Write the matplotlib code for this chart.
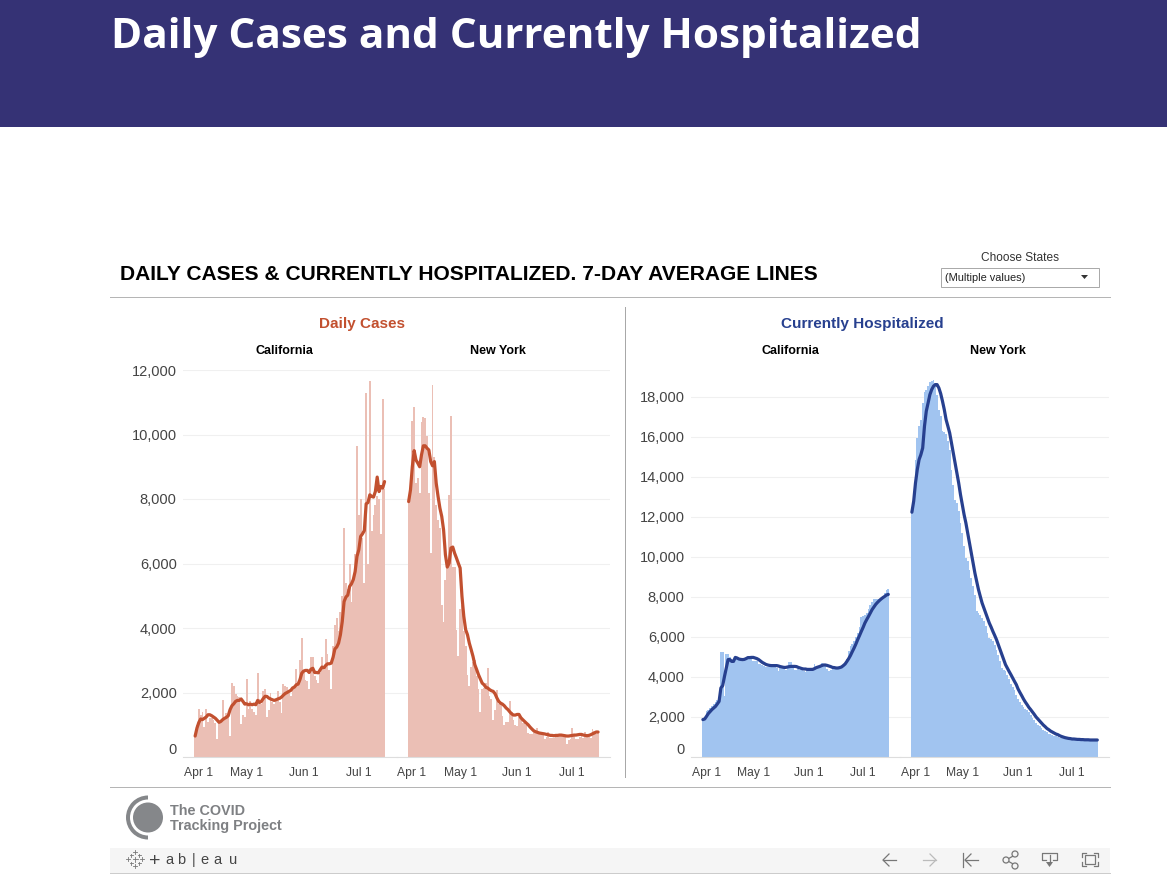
import matplotlib
matplotlib.use('Agg')
import matplotlib.pyplot as plt
import numpy as np
from matplotlib.patches import Rectangle, Circle, Wedge, Polygon
from matplotlib.ticker import FuncFormatter

W, H = 1167, 882

# Daily cases, from Apr 2 on
ca_cases = [650, 1000, 1500, 1300, 1400, 920, 1500, 1100, 1200, 1200,
            1150, 1050, 570, 1050, 1100, 1770, 1150, 1350, 1300, 650,
            2300, 2200, 1950, 1900, 1850, 1030, 1300, 1250, 2420, 1500,
            1750, 1500, 1400, 1300, 2600, 1800, 1650, 2050, 2100, 1250,
            1450, 2000, 1700, 1650, 1800, 2050, 1700, 1350, 2270, 2200,
            2180, 2000, 1900, 2150, 2200, 2730, 2300, 3000, 3690, 2700,
            2400, 2350, 2100, 3100, 3100, 2500, 2400, 2300, 2600, 3100,
            2700, 3650, 3200, 2700, 2100, 3450, 4100, 4300, 3900, 4500,
            5000, 7100, 5400, 5200, 6000, 4800, 5500, 6300, 9650, 7500,
            8000, 6800, 5400, 11300, 6000, 11650, 7000, 7500, 7800, 8100,
            8000, 6900, 11100, 8300]
ca_cases_avg = [650, 900, 1070, 1180, 1160, 1200, 1240, 1310, 1310, 1280,
                1240, 1200, 1140, 1075, 1105, 1160, 1200, 1230, 1280, 1470,
                1590, 1650, 1725, 1755, 1755, 1800, 1725, 1640, 1650, 1620,
                1640, 1620, 1640, 1620, 1755, 1690, 1725, 1810, 1880, 1880,
                1830, 1800, 1775, 1755, 1775, 1800, 1820, 1860, 1920, 1970,
                2000, 2035, 2065, 2140, 2170, 2240, 2260, 2400, 2600, 2665,
                2685, 2685, 2620, 2725, 2750, 2620, 2620, 2610, 2705, 2790,
                2760, 2840, 2890, 2890, 2910, 3090, 3350, 3410, 3530, 3790,
                4200, 4820, 4960, 5020, 5290, 5370, 5500, 5750, 6220, 6425,
                6840, 6920, 7020, 7850, 7890, 8130, 8080, 8060, 8230, 8680,
                8230, 8390, 8340, 8540]
ny_cases = [7900, 8200, 10420, 10850, 8500, 8650, 8200, 10400, 10550, 10500,
            9960, 8200, 6340, 11550, 9300, 7800, 7350, 7100, 4720, 4200,
            5500, 6000, 8130, 10560, 5900, 5900, 3950, 3120, 4600, 4700,
            3900, 3450, 2550, 2200, 2800, 2950, 3000, 2500, 2100, 1400,
            2100, 2150, 2300, 2760, 1900, 1800, 1150, 1450, 2090, 1650,
            1700, 1260, 1000, 1100, 1100, 1750, 1400, 1150, 1000, 950,
            1250, 1200, 1050, 1050, 1000, 750, 700, 700, 800, 850,
            900, 750, 700, 680, 570, 620, 790, 600, 600, 580,
            640, 650, 720, 680, 620, 640, 400, 520, 560, 900,
            650, 560, 560, 620, 650, 580, 780, 700, 620, 600,
            860, 800, 700, 750]
ny_cases_avg = [7920, 8280, 9000, 9500, 9210, 9110, 9000, 9370, 9650, 9650,
                9575, 9520, 9160, 9030, 9160, 8490, 8080, 7720, 7460, 7045,
                6270, 5890, 6010, 6480, 6510, 6320, 6170, 6010, 5860, 4980,
                4360, 3950, 3790, 3530, 3330, 3120, 2860, 2710, 2550, 2420,
                2290, 2240, 2160, 2140, 2090, 2055, 2035, 1960, 1830, 1725,
                1670, 1640, 1590, 1520, 1470, 1400, 1340, 1300, 1300, 1320,
                1320, 1220, 1160, 1105, 1050, 1000, 930, 870, 815, 785,
                765, 745, 735, 725, 715, 700, 690, 670, 670, 660,
                670, 670, 680, 680, 670, 660, 650, 650, 660, 670,
                680, 680, 690, 700, 700, 680, 670, 660, 670, 690,
                720, 745, 775, 775]

# Currently hospitalized
ca_hosp = [1850, 1950, 2280, 2370, 2450, 2530, 2670, 2730, 2830, 2950,
           5270, 5270, 3030, 5150, 5150, 5000, 4700, 4700, 5000, 4900,
           4850, 4850, 4800, 4850, 4950, 4950, 4980, 4980, 4800, 4780,
           4780, 4650, 4650, 4580, 4560, 4500, 4520, 4560, 4560, 4560,
           4500, 4450, 4300, 4450, 4500, 4400, 4350, 4500, 4770, 4770,
           4500, 4350, 4350, 4400, 4350, 4380, 4300, 4250, 4400, 4350,
           4330, 4350, 4650, 4500, 4450, 4500, 4700, 4600, 4600, 4400,
           4300, 4350, 4450, 4450, 4450, 4380, 4420, 4450, 4500, 4700,
           4900, 5300, 5570, 5650, 5800, 6000, 6200, 6500, 7000, 7050,
           7100, 7200, 7400, 7600, 7750, 7900, 7900, 7900, 7900, 7950,
           8000, 8200, 8350, 8400]
ca_hosp_avg = [1870, 1900, 2030, 2170, 2270, 2370, 2450, 2530, 2650, 2780,
               3450, 3570, 4030, 4450, 4870, 4870, 4780, 4780, 4980, 4950,
               4900, 4880, 4870, 4880, 4920, 4970, 4970, 4980, 4980, 4950,
               4920, 4870, 4800, 4730, 4680, 4630, 4600, 4580, 4570, 4570,
               4570, 4570, 4550, 4520, 4500, 4480, 4480, 4500, 4520, 4530,
               4530, 4530, 4520, 4480, 4450, 4420, 4400, 4400, 4380, 4380,
               4380, 4380, 4420, 4470, 4500, 4530, 4570, 4600, 4600, 4580,
               4550, 4520, 4480, 4470, 4450, 4450, 4470, 4500, 4570, 4650,
               4780, 4920, 5080, 5270, 5450, 5650, 5870, 6070, 6280, 6480,
               6700, 6870, 7030, 7200, 7370, 7500, 7630, 7730, 7820, 7900,
               7970, 8030, 8100, 8130]
ny_hosp = [12370, 13030, 14870, 15950, 16530, 16870, 17700, 18240, 18370, 18540,
           18740, 18820, 18870, 18700, 18120, 17370, 17040, 16290, 16240, 16150,
           15790, 15370, 14370, 13620, 12870, 12700, 12290, 11700, 11200, 10540,
           9950, 9790, 9370, 8950, 8530, 8120, 7280, 7200, 7120, 6950,
           6780, 6530, 6200, 5950, 5900, 5780, 5620, 5370, 5120, 4780,
           4450, 4370, 4280, 4120, 3900, 3670, 3500, 3330, 3120, 2920,
           2750, 2580, 2500, 2420, 2330, 2230, 2120, 1970, 1830, 1700,
           1620, 1530, 1450, 1370, 1280, 1230, 1170, 1130, 1100, 1070,
           1030, 1000, 970, 950, 930, 920, 900, 900, 890, 880,
           880, 870, 870, 860, 860, 860, 850, 850, 850, 850,
           850, 840, 840, 840]
ny_hosp_avg = [12240, 12790, 13700, 14370, 14870, 15120, 15450, 16540, 17290, 17700,
               18120, 18370, 18540, 18620, 18620, 18450, 18170, 17790, 17370, 16870,
               16540, 16200, 15700, 15200, 14700, 14200, 13700, 13120, 12620, 12120,
               11700, 11200, 10700, 10200, 9700, 9200, 8780, 8370, 8030, 7700,
               7450, 7200, 6950, 6700, 6500, 6280, 6080, 5870, 5620, 5370,
               5120, 4870, 4620, 4450, 4280, 4120, 3950, 3780, 3620, 3400,
               3230, 3070, 2900, 2750, 2620, 2480, 2370, 2250, 2130, 2000,
               1900, 1800, 1700, 1600, 1520, 1430, 1370, 1300, 1250, 1200,
               1150, 1120, 1070, 1030, 1000, 970, 950, 930, 920, 900,
               900, 890, 880, 880, 870, 870, 860, 860, 860, 850,
               850, 850, 850, 850]

month_labels = ['Apr 1', 'May 1', 'Jun 1', 'Jul 1']
# days since Apr 1, first label is pushed right like tableau does at the edge
month_days = [3.8, 30, 61, 91]
cases_ticks = [0, 2000, 4000, 6000, 8000, 10000, 12000]
hosp_ticks = [0, 2000, 4000, 6000, 8000, 10000, 12000, 14000, 16000, 18000]

ORANGE = '#C2502F'
ORANGE_BAR = '#EBBFB5'
BLUE = '#27408F'
BLUE_BAR = '#A1C4F0'
GRID = '#F0F0F0'

plt.rcParams['font.family'] = ['Liberation Sans', 'DejaVu Sans']

fig = plt.figure(figsize=(W / 100, H / 100), dpi=100, facecolor='white')


def px_axes(left, right, top, bottom):
    return fig.add_axes([left / W, 1 - bottom / H, (right - left) / W, (bottom - top) / H])


# background layer in pixel coords for the page furniture
bg = fig.add_axes([0, 0, 1, 1])
bg.set_xlim(0, W)
bg.set_ylim(H, 0)
bg.axis('off')


def draw_facet(ax, bars, avg, ymax, ticks, bar_color, line_color, show_y):
    days = np.arange(len(bars)) + 2
    ax.bar(days, bars, width=1.0, color=bar_color, linewidth=0, zorder=2)
    ax.plot(days, avg, color=line_color, lw=2.3, solid_capstyle='round', zorder=3)
    ax.set_xlim(-4.6, 111.5)
    ax.set_ylim(0, ymax)
    ax.set_yticks(ticks)
    ax.yaxis.set_major_formatter(FuncFormatter(lambda v, p: f'{int(v):,}'))
    ax.set_xticks(month_days)
    ax.set_xticklabels(month_labels, fontsize=8.7, color='#444444')
    ax.tick_params(axis='x', length=0, pad=7.5)
    ax.tick_params(axis='y', length=0, pad=4.5, labelsize=10.5, labelcolor='#444444',
                   labelleft=show_y)
    ax.grid(axis='y', color=GRID, lw=0.8, zorder=0)
    ax.set_axisbelow(True)
    ax.patch.set_alpha(0)
    for side in ['top', 'left', 'right']:
        ax.spines[side].set_visible(False)
    ax.spines['bottom'].set_color('#DDDDDD')
    if show_y:
        # tableau lifts the zero label off the baseline
        ax.get_yticklabels()[0].set_va('bottom')


ymax_cases = 12000
# same 387 px tall panel, 2,000 is 40 px here
ymax_hosp = 19350

draw_facet(px_axes(183, 396.5, 370, 757), ca_cases, ca_cases_avg, ymax_cases, cases_ticks,
           ORANGE_BAR, ORANGE, True)
draw_facet(px_axes(396.5, 610, 370, 757), ny_cases, ny_cases_avg, ymax_cases, cases_ticks,
           ORANGE_BAR, ORANGE, False)
draw_facet(px_axes(691, 900, 370, 757), ca_hosp, ca_hosp_avg, ymax_hosp, hosp_ticks,
           BLUE_BAR, BLUE, True)
draw_facet(px_axes(900, 1109, 370, 757), ny_hosp, ny_hosp_avg, ymax_hosp, hosp_ticks,
           BLUE_BAR, BLUE, False)

# header band
bg.add_patch(Rectangle((0, 0), W, 127, color='#353275', lw=0))
bg.text(111, 37, 'Daily Cases and Currently Hospitalized', color='white', fontsize=30.4,
        fontweight='bold', family='Open Sans', va='center', ha='left')

# dashboard title and filter
bg.text(120, 274, 'DAILY CASES & CURRENTLY HOSPITALIZED. 7-DAY AVERAGE LINES', color='black',
        fontsize=15.14, fontweight='bold', va='center', ha='left')
bg.text(1020, 258, 'Choose States', color='#333333', fontsize=8.6, va='center', ha='center')
bg.add_patch(Rectangle((941, 268), 157.5, 18.5, fc='white', ec='#AAAAAA', lw=0.72))
bg.text(945, 278, '(Multiple values)', color='#222222', fontsize=7.9, va='center', ha='left')
bg.add_patch(Polygon([[1081, 275], [1088, 275], [1084.5, 279]], color='#333333', lw=0))

# separators
bg.plot([110, 1110], [297, 297], color='#B5B5B5', lw=0.72)
bg.plot([110, 1110], [787, 787], color='#B5B5B5', lw=0.72)
bg.plot([625, 625], [307, 777], color='#A8A8A8', lw=0.72)

# panel headers
bg.text(362, 324, 'Daily Cases', color=ORANGE, fontsize=11, fontweight='bold', va='center', ha='center')
bg.text(862, 324, 'Currently Hospitalized', color=BLUE, fontsize=11, fontweight='bold',
        va='center', ha='center')
for x, name in [(284, 'California'), (498, 'New York'), (790, 'California'), (998, 'New York')]:
    bg.text(x, 351, name, color='black', fontsize=9, fontweight='bold', va='center', ha='center')

# logo
bg.add_patch(Circle((148, 817.5), 15, color='#85878A', lw=0))
bg.add_patch(Wedge((148, 817.5), 22, 90, 270, width=4, color='#85878A', lw=0))
bg.text(170, 811, 'The COVID', color='#7E8083', fontsize=10.4, fontweight='bold', va='center', ha='left')
bg.text(170, 826, 'Tracking Project', color='#7E8083', fontsize=10.4, fontweight='bold', va='center', ha='left')

# tableau toolbar
bg.add_patch(Rectangle((110, 848), 1000, 25, color='#F5F5F5', lw=0))
bg.plot([110, 1110], [873, 873], color='#CCCCCC', lw=0.72)
for x, ch in [(155, '+'), (169, 'a'), (181, 'b'), (194, '|'), (204, 'e'), (217, 'a'), (233, 'u')]:
    bg.text(x, 861 if ch == '+' else 860, ch, color='#444444', fontsize=14 if ch == '+' else 10.5,
            va='center', ha='center')
for dx, dy, s in [(-7, 0, 4), (7, 0, 4), (0, -7, 4), (0, 7, 4), (-4, -4, 3), (4, -4, 3), (-4, 4, 3), (4, 4, 3), (0, 0, 5)]:
    bg.plot([135 + dx - s / 2, 135 + dx + s / 2], [859 + dy, 859 + dy], color='#777777', lw=0.6)
    bg.plot([135 + dx, 135 + dx], [859 + dy - s / 2, 859 + dy + s / 2], color='#777777', lw=0.6)

icon = '#777777'
# back / forward arrows
bg.plot([883, 896], [860, 860], color=icon, lw=0.9)
bg.plot([889, 883, 889], [854, 860, 866], color=icon, lw=0.9)
bg.plot([923, 936], [860, 860], color='#BBBBBB', lw=0.9)
bg.plot([930, 936, 930], [854, 860, 866], color='#BBBBBB', lw=0.9)
# revert
bg.plot([963, 963], [853, 867], color=icon, lw=0.9)
bg.plot([965, 978], [860, 860], color=icon, lw=0.9)
bg.plot([971, 965, 971], [854, 860, 866], color=icon, lw=0.9)
# share
bg.plot([1015, 1006, 1015], [855, 860, 865], color=icon, lw=0.9)
for cx, cy in [(1015, 854), (1006, 860), (1015, 866)]:
    bg.add_patch(Circle((cx, cy), 3, fc='#F5F5F5', ec=icon, lw=0.9, zorder=3))
# download
bg.plot([1046, 1042, 1042, 1057, 1057, 1053], [860, 860, 853, 853, 860, 860], color=icon, lw=0.9)
bg.plot([1049.5, 1049.5], [855, 864], color=icon, lw=0.9)
bg.add_patch(Polygon([[1046, 862], [1053, 862], [1049.5, 867]], color=icon, lw=0))
# fullscreen
bg.add_patch(Rectangle((1085, 855), 10, 9, fc='none', ec=icon, lw=0.9))
bg.plot([1082, 1082, 1086], [857, 853, 853], color=icon, lw=0.9)
bg.plot([1094, 1098, 1098], [853, 853, 857], color=icon, lw=0.9)
bg.plot([1082, 1082, 1086], [862, 866, 866], color=icon, lw=0.9)
bg.plot([1094, 1098, 1098], [866, 866, 862], color=icon, lw=0.9)

fig.savefig('out.png', dpi=100)
plt.close(fig)
